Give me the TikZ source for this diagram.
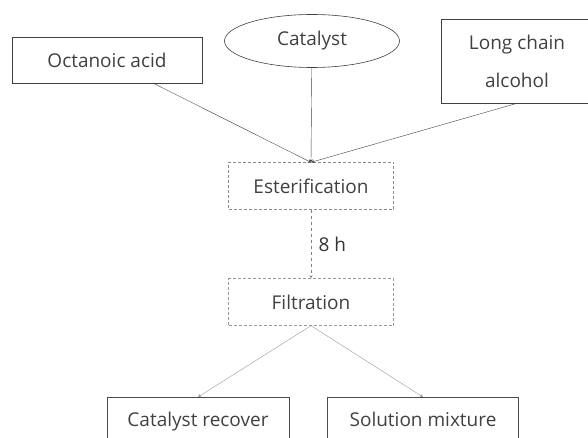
\documentclass[tikz,border=0pt]{standalone}
\usepackage{fontspec}
\setmainfont{Open Sans}
\usetikzlibrary{shapes.geometric}
\begin{document}
\begin{tikzpicture}[x=1pt,y=-1pt,font=\fontsize{19}{22}\selectfont,text=black!75]
\useasboundingbox(0,0)rectangle(588,438);
\node[draw=black!75,semithick,minimum width=190pt,minimum height=46pt](acid)at(107,60){Octanoic acid};%酸
\node[draw=black!75,semithick,ellipse,minimum width=175pt,minimum height=53pt](cat)at(312,41){Catalyst};%触媒
\node[draw=black!75,semithick,align=center,minimum width=152pt,minimum height=84pt,font=\fontsize{19}{38}\selectfont](alc)at(517,61){Long chain\\alcohol};%アルコール
\node[draw=black!45,densely dashed,minimum width=165pt,minimum height=47pt](ester)at(311,186){Esterification};%エステル化
\node[draw=black!40,densely dashed,minimum width=165pt,minimum height=47pt](filt)at(311,302){Filtration};%ろ過
\node[draw=black!70,semithick,minimum width=182pt,inner ysep=15pt,text depth=30pt,anchor=north](rec)at(198,397){Catalyst recover};
\node[draw=black!70,semithick,minimum width=191pt,inner ysep=15pt,text depth=30pt,anchor=north](sol)at(423,397){Solution mixture};
\draw[->,>=stealth,black!75](acid)--(ester.north);
\draw[->,>=stealth,black!75](cat)--(ester.north);
\draw[->,>=stealth,black!75](alc.south)--(ester.north);
\draw[->,>=stealth,black!50,dashed](ester)--(filt)node[midway,right,xshift=4pt,text=black!80]{8 h};%8時間
\draw[->,>=stealth,black!40](filt.south)--(rec.north);
\draw[->,>=stealth,black!40](filt.south)--(sol.north);
\end{tikzpicture}
\end{document}
